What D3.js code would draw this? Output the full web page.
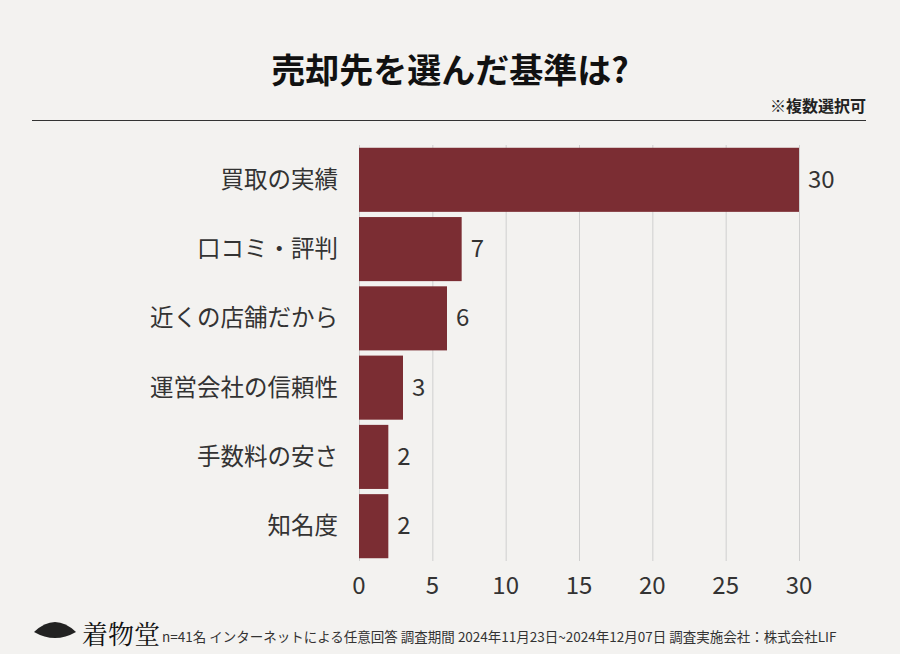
<!DOCTYPE html><html><head><meta charset="utf-8"><script src="https://cdn.jsdelivr.net/npm/d3@7"></script>
<style>body{margin:0;background:#f3f2f0}svg{display:block}</style></head><body><svg width="900" height="654"></svg>
<script>
const categories=["買取の実績","口コミ・評判","近くの店舗だから","運営会社の信頼性","手数料の安さ","知名度"];
const values=[30,7,6,3,2,2];
const ticks=[0,5,10,15,20,25,30];
const svg=d3.select("svg");
const F="'Noto Sans CJK JP',sans-serif";
svg.append("rect").attr("width",900).attr("height",654).attr("fill","#f3f2f0");
svg.append("text").attr("x",450).attr("y",83).attr("text-anchor","middle").attr("font-family",F).attr("font-weight",700).attr("font-size",34).attr("fill","#111").text("売却先を選んだ基準は?");
svg.append("text").attr("x",866).attr("y",112).attr("text-anchor","end").attr("font-family",F).attr("font-weight",700).attr("font-size",16).attr("fill","#222").text("※複数選択可");
svg.append("line").attr("x1",32).attr("x2",866).attr("y1",120.5).attr("y2",120.5).attr("stroke","#333");
const x=d3.scaleLinear().domain([0,30]).range([359,799]);
const y=d3.scaleBand().domain(categories).range([145,561]).paddingInner(0.075).paddingOuter(0.04);
svg.append("g").selectAll("line").data(ticks).join("line").attr("x1",d=>x(d)+.5).attr("x2",d=>x(d)+.5).attr("y1",145).attr("y2",561).attr("stroke","#cfcfcf");
svg.selectAll(".bar").data(values).join("rect").attr("x",x(0)).attr("y",(d,i)=>y(categories[i])).attr("width",d=>x(d)-x(0)).attr("height",y.bandwidth()).attr("fill","#7b2d33");
svg.selectAll(".v").data(values).join("text").attr("x",d=>x(d)+9).attr("y",(d,i)=>y(categories[i])+y.bandwidth()/2+8).attr("font-family",F).attr("font-size",24).attr("fill","#333").text(d=>d);
svg.selectAll(".c").data(categories).join("text").attr("x",338).attr("y",d=>y(d)+y.bandwidth()/2+8).attr("text-anchor","end").attr("font-family",F).attr("font-size",23.5).attr("fill","#333").text(d=>d);
svg.selectAll(".t").data(ticks).join("text").attr("x",d=>x(d)).attr("y",594).attr("text-anchor","middle").attr("font-family",F).attr("font-size",24).attr("fill","#333").text(d=>d);
svg.append("path").attr("d","M34,632 Q55,612 76,632 Q55,644 34,632Z").attr("fill","#222");
svg.append("text").attr("x",82).attr("y",644).attr("font-family","'Noto Serif CJK JP','Noto Sans CJK JP',serif").attr("font-size",26).attr("fill","#111").text("着物堂");
svg.append("text").attr("x",162).attr("y",642).attr("font-family",F).attr("font-size",13.5).attr("fill","#333").text("n=41名 インターネットによる任意回答 調査期間 2024年11月23日~2024年12月07日 調査実施会社：株式会社LIF");
</script></body></html>
